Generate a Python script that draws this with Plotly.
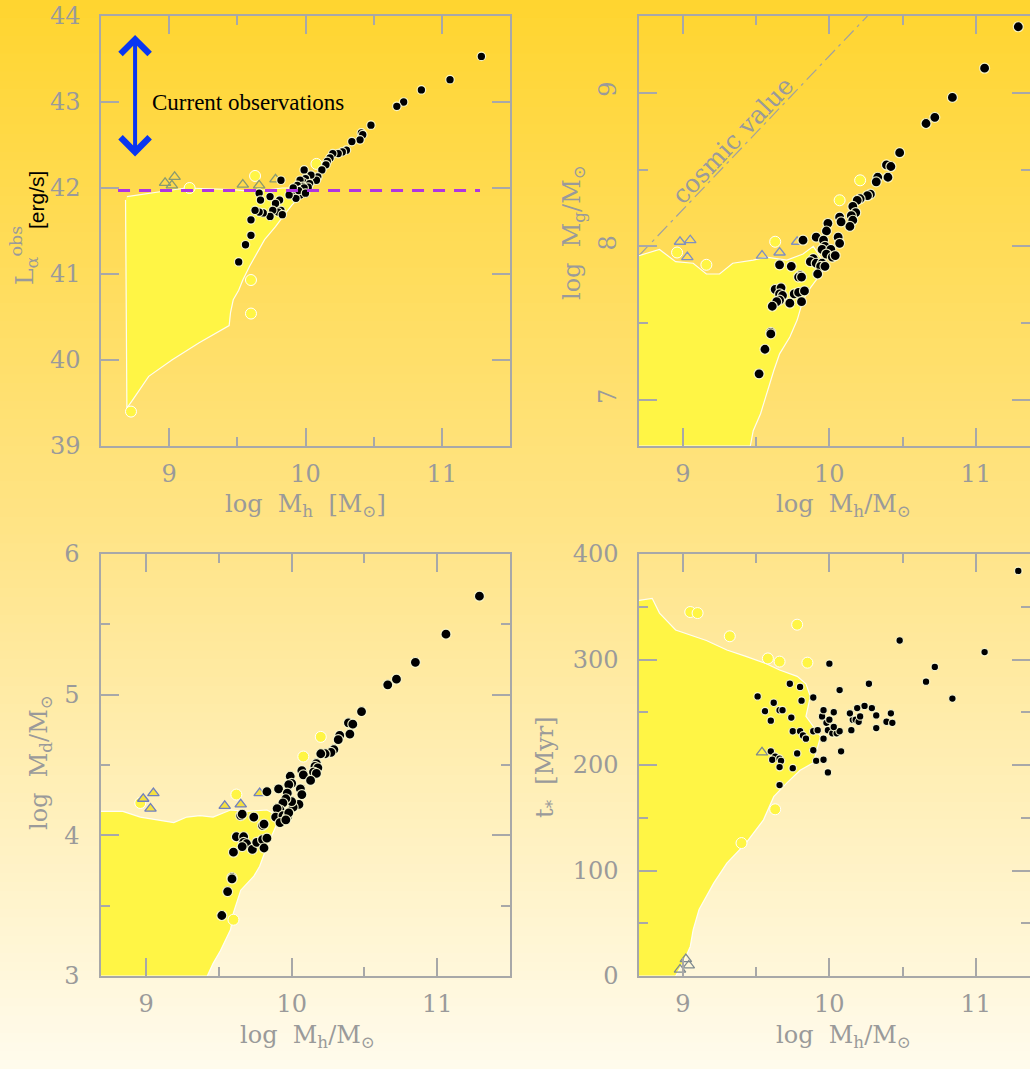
import plotly.graph_objects as go

W, H = 1030, 1069

# ---------------- data ----------------
# Panel 1: log L_alpha^obs vs log M_h
p1_x = [11.29, 11.06, 10.85, 10.72, 10.67, 10.48, 10.41, 10.42, 10.40, 10.34, 10.30, 10.27, 10.24, 10.20,
        10.18, 10.16, 10.15, 10.12, 10.09, 10.08, 10.04, 9.99, 10.00, 9.98, 9.96, 10.03, 9.98, 9.94, 9.97,
        9.92, 9.96, 9.93, 9.88, 9.82, 9.81, 9.78, 9.74, 9.66, 9.67, 9.82, 9.80, 9.76, 9.83, 9.74, 9.69,
        9.66, 9.63, 9.60, 9.60, 9.56, 9.51, 10.02, 9.99, 9.95, 9.91, 10.00]
p1_y = [43.53, 43.26, 43.14, 43.00, 42.95, 42.73, 42.64, 42.62, 42.56, 42.54, 42.44, 42.42, 42.40, 42.40,
        42.35, 42.31, 42.27, 42.21, 42.13, 42.09, 42.15, 42.21, 42.11, 42.07, 42.09, 42.05, 42.02, 42.03, 41.98,
        41.96, 41.92, 41.88, 41.92, 42.09, 41.86, 41.82, 41.90, 41.94, 41.86, 41.74, 41.72, 41.74, 41.69, 41.67, 41.71,
        41.72, 41.74, 41.63, 41.45, 41.34, 41.14, 42.01, 42.00, 41.97, 42.00, 41.94]
p1_tri_x = [8.97, 9.02, 9.04, 9.54, 9.66, 9.78]
p1_tri_y = [42.06, 42.03, 42.13, 42.04, 42.03, 42.10]
p1_poly_x = [8.69, 9.12, 9.47, 9.61, 9.83, 9.96, 9.96, 9.90, 9.85, 9.78, 9.70, 9.64, 9.59, 9.54, 9.51,
             9.47, 9.45, 9.44, 9.22, 9.02, 8.85, 8.73, 8.69, 8.68]
p1_poly_y = [41.90, 42.00, 41.98, 41.96, 42.00, 42.00, 41.90, 41.80, 41.70, 41.55, 41.40, 41.24, 41.09, 40.93, 40.81,
             40.70, 40.55, 40.40, 40.20, 40.00, 39.81, 39.53, 39.44, 41.86]
p1_yc_x = [9.15, 9.60, 9.60, 8.72, 9.63, 10.08]
p1_yc_y = [42.00, 40.93, 40.54, 39.40, 42.14, 42.28]
obs_limit_x = [8.625, 11.28]
obs_limit_y = [41.97, 41.97]
arrow_x = 8.75
arrow_y = [42.35, 43.78]

# Panel 2: log M_g vs log M_h
p2_x = [11.29, 11.06, 10.84, 10.72, 10.66, 10.48, 10.39, 10.42, 10.40, 10.33, 10.32, 10.28, 10.26, 10.21, 10.19,
        10.16, 10.18, 10.15, 10.16, 10.14, 10.07, 10.08, 9.99, 9.98, 10.06, 10.07, 9.91, 9.82, 9.96, 9.97, 9.95,
        10.01, 9.98, 10.02, 10.04, 9.89, 9.87, 9.91, 9.95, 9.94, 9.97, 9.92, 9.66, 9.74, 9.80, 9.79, 9.81,
        9.63, 9.67, 9.66, 9.68, 9.66, 9.64, 9.73, 9.76, 9.79, 9.83, 9.81, 9.61, 9.60, 9.60, 9.56, 9.52]
p2_y = [9.43, 9.16, 8.97, 8.84, 8.80, 8.61, 8.53, 8.52, 8.45, 8.45, 8.42, 8.34, 8.33, 8.31, 8.30,
        8.26, 8.22, 8.20, 8.17, 8.13, 8.19, 8.16, 8.15, 8.10, 8.06, 8.02, 8.06, 8.04, 8.04, 8.00, 7.98,
        7.98, 7.95, 7.93, 7.94, 7.92, 7.90, 7.89, 7.89, 7.87, 7.87, 7.82, 7.88, 7.87, 7.81, 7.80, 7.80,
        7.72, 7.73, 7.69, 7.68, 7.65, 7.64, 7.63, 7.69, 7.70, 7.71, 7.64, 7.61, 7.44, 7.43, 7.33, 7.17]
p2_tri_x = [8.98, 9.05, 9.03, 9.54, 9.66, 9.78]
p2_tri_y = [8.03, 8.04, 7.93, 7.94, 7.96, 8.03]
p2_poly_x = [8.70, 8.84, 8.95, 9.07, 9.16, 9.25, 9.34, 9.48, 9.57, 9.71, 9.82, 9.89, 9.98, 9.87, 9.82,
             9.78, 9.73, 9.66, 9.62, 9.57, 9.53, 9.48, 9.46, 8.70]
p2_poly_y = [7.94, 7.98, 7.90, 7.89, 7.82, 7.82, 7.89, 7.91, 7.93, 7.91, 7.95, 8.00, 7.87, 7.73, 7.65,
             7.52, 7.41, 7.30, 7.19, 7.04, 6.91, 6.80, 6.70, 6.70]
p2_yc_x = [8.96, 9.16, 9.63, 10.07, 10.21]
p2_yc_y = [7.96, 7.88, 8.03, 8.30, 8.43]
cosmic_x = [8.70, 10.26]
cosmic_y = [7.94, 9.50]

# Panel 3: log M_d vs log M_h
p3_x = [11.29, 11.06, 10.85, 10.72, 10.66, 10.48, 10.39, 10.42, 10.40, 10.33, 10.32, 10.29, 10.27, 10.23, 10.20,
        10.17, 10.16, 10.18, 10.15, 10.17, 10.07, 10.08, 10.13, 9.99, 10.00, 9.98, 9.91, 9.83,
        10.06, 10.07, 10.05, 10.01, 10.00, 9.97, 9.96, 9.94, 9.92, 9.90, 9.89, 9.94, 9.97, 9.98, 9.92, 9.96,
        9.65, 9.66, 9.74, 9.80, 9.81, 9.62, 9.67, 9.67, 9.69, 9.66, 9.73, 9.76, 9.80, 9.83, 9.81,
        9.60, 9.59, 9.59, 9.56, 9.52]
p3_y = [5.70, 5.43, 5.23, 5.11, 5.07, 4.88, 4.80, 4.79, 4.72, 4.71, 4.68, 4.61, 4.59, 4.58, 4.58,
        4.51, 4.49, 4.48, 4.45, 4.44, 4.46, 4.43, 4.39, 4.42, 4.37, 4.36, 4.33, 4.31,
        4.33, 4.29, 4.22, 4.20, 4.24, 4.30, 4.26, 4.23, 4.18, 4.19, 4.13, 4.14, 4.13, 4.16, 4.09, 4.11,
        4.14, 4.15, 4.13, 4.07, 4.08, 3.99, 3.99, 3.95, 3.94, 3.92, 3.90, 3.95, 3.97, 3.98, 3.91,
        3.88, 3.70, 3.69, 3.60, 3.43]
p3_tri_x = [8.98, 9.05, 9.03, 9.54, 9.65, 9.78]
p3_tri_y = [4.26, 4.30, 4.19, 4.21, 4.22, 4.30]
p3_poly_x = [8.69, 8.84, 8.96, 9.07, 9.19, 9.28, 9.37, 9.46, 9.58, 9.69, 9.83, 9.92, 9.88, 9.83, 9.78,
             9.74, 9.65, 9.60, 9.58, 9.51, 9.46, 9.42, 8.69]
p3_poly_y = [4.17, 4.17, 4.13, 4.11, 4.09, 4.13, 4.14, 4.13, 4.18, 4.17, 4.18, 4.13, 4.04, 3.92, 3.78,
             3.71, 3.61, 3.45, 3.33, 3.18, 3.09, 3.00, 3.00]
p3_yc_x = [8.96, 9.62, 10.08, 10.20, 9.60]
p3_yc_y = [4.23, 4.29, 4.56, 4.70, 3.40]

# Panel 4: t_* vs log M_h
p4_x = [11.29, 11.06, 10.84, 10.72, 10.66, 10.48, 10.27, 10.00, 10.07, 10.42, 10.39, 10.43, 10.32, 10.29, 10.24,
        10.32, 10.15, 10.16, 10.14, 10.19, 10.18, 10.20, 10.21, 9.51, 9.56, 9.60, 9.62, 9.66, 9.68, 9.73,
        9.80, 9.81, 9.74, 9.75, 9.80, 9.82, 9.84, 9.89, 9.92, 9.95, 9.96, 9.98, 9.99, 10.02, 10.05, 10.07,
        10.03, 10.00, 9.96, 9.89, 10.03, 9.89, 9.91, 9.96, 10.08, 9.78, 9.60, 9.63, 9.61, 9.66, 9.67, 9.66,
        9.75, 9.99, 9.66]
p4_y = [384, 307, 263, 293, 279, 318, 277, 296, 271, 249, 241, 240, 235, 254, 256,
        247, 233, 243, 249, 254, 243, 241, 246, 265, 251, 242, 259, 252, 252, 277,
        274, 261, 245, 232, 232, 228, 225, 232, 233, 246, 252, 240, 233, 230, 230, 232,
        236, 243, 225, 264, 250, 214, 204, 205, 213, 211, 213, 208, 205, 206, 204, 198,
        197, 193, 181]
p4_tri_x = [9.54, 8.98, 9.02, 9.04]
p4_tri_y = [212, 6, 16, 10]
p4_poly_x = [8.70, 8.79, 8.84, 8.95, 9.16, 9.30, 9.43, 9.57, 9.66, 9.78, 9.84, 9.87, 9.84, 9.94, 9.89,
             9.80, 9.71, 9.62, 9.55, 9.43, 9.30, 9.21, 9.11, 9.07, 9.05, 9.00, 8.95, 8.70]
p4_poly_y = [356, 358, 344, 328, 318, 309, 303, 296, 290, 284, 277, 265, 246, 227, 202,
             195, 183, 170, 148, 126, 107, 88, 63, 44, 28, 12, 0, 0]
p4_yc_x = [9.05, 9.10, 9.32, 9.78, 9.40, 9.58, 9.66, 9.85, 9.63]
p4_yc_y = [345, 344, 322, 333, 126, 301, 298, 297, 158]

# ---------------- layout geometry ----------------
def px_x(p):
    return p / W

def px_y(p):
    return 1 - p / H

GREY = "#9a9a9a"
AXC = "#a8a8a8"
SERIF = "DejaVu Serif"
YEL = "#FFF545"

fig = go.Figure()

panels = [
    ("x", "y", [8.5, 11.5], [39, 44], (101, 510), (16, 446)),
    ("x2", "y2", [8.70, 11.37], [6.70, 9.5], (639, 1030), (16, 446)),
    ("x3", "y3", [8.69, 11.5], [3, 6], (101, 510), (554, 976)),
    ("x4", "y4", [8.70, 11.37], [0, 400], (639, 1030), (554, 976)),
]

def add_panel(k, poly_x, poly_y, yc_x, yc_y, tri_x, tri_y, tri_fill, tri_line, dot_x, dot_y, dot_size):
    xa, ya = panels[k][0], panels[k][1]
    fig.add_trace(go.Scatter(x=poly_x, y=poly_y, mode="lines", fill="toself", fillcolor=YEL,
                             line=dict(color="rgba(255,255,255,0.9)", width=1.2), xaxis=xa, yaxis=ya,
                             hoverinfo="skip", showlegend=False))
    fig.add_trace(go.Scatter(x=yc_x, y=yc_y, mode="markers",
                             marker=dict(size=11, color=YEL, line=dict(color="white", width=1)),
                             xaxis=xa, yaxis=ya, showlegend=False))
    fig.add_trace(go.Scatter(x=tri_x, y=tri_y, mode="markers",
                             marker=dict(symbol="triangle-up", size=10, color=tri_fill,
                                         line=dict(color=tri_line, width=1.3)),
                             xaxis=xa, yaxis=ya, showlegend=False))
    fig.add_trace(go.Scatter(x=dot_x, y=dot_y, mode="markers",
                             marker=dict(size=dot_size, color="black",
                                         line=dict(color="rgba(255,255,215,0.9)", width=1.2)),
                             xaxis=xa, yaxis=ya, showlegend=False))

add_panel(0, p1_poly_x, p1_poly_y, p1_yc_x, p1_yc_y, p1_tri_x, p1_tri_y,
          "rgba(0,0,0,0)", "#8a9a70", p1_x, p1_y, 8.5)
fig.add_trace(go.Scatter(x=obs_limit_x, y=obs_limit_y, mode="lines",
                         line=dict(color="#B035E0", width=3, dash="12px,9px"),
                         xaxis="x", yaxis="y", showlegend=False))

fig.add_trace(go.Scatter(x=cosmic_x, y=cosmic_y, mode="lines",
                         line=dict(color="#a0a0a0", width=1.2, dash="14px,5px,3px,5px"),
                         xaxis="x2", yaxis="y2", showlegend=False))
add_panel(1, p2_poly_x, p2_poly_y, p2_yc_x, p2_yc_y, p2_tri_x, p2_tri_y,
          "rgba(0,0,0,0)", "#7f8fc0", p2_x, p2_y, 10)
add_panel(2, p3_poly_x, p3_poly_y, p3_yc_x, p3_yc_y, p3_tri_x, p3_tri_y,
          "#F5E040", "#6f7fc0", p3_x, p3_y, 10)
add_panel(3, p4_poly_x, p4_poly_y, p4_yc_x, p4_yc_y, p4_tri_x, p4_tri_y,
          "rgba(0,0,0,0)", "#7f8a90", p4_x, p4_y, 7.5)

axis_common = dict(showgrid=False, zeroline=False, showline=True, linecolor=AXC, linewidth=1.5,
                   mirror="ticks", ticks="inside", ticklen=18, tickwidth=1.5, tickcolor=AXC,
                   automargin=False,
                   tickfont=dict(family=SERIF, size=24, color=GREY))

layout = dict(width=W, height=H, margin=dict(l=0, r=0, t=0, b=0, pad=0, autoexpand=False),
              paper_bgcolor="#FFF8E6", plot_bgcolor="rgba(0,0,0,0)", showlegend=False)

def minor(d):
    return dict(dtick=d, ticklen=9, tickwidth=1.5, tickcolor=AXC, ticks="inside")

for i, (xa, ya, xr, yr, xd, yd) in enumerate(panels):
    xn = "xaxis" if i == 0 else f"xaxis{i+1}"
    yn = "yaxis" if i == 0 else f"yaxis{i+1}"
    xax = dict(axis_common, range=xr, domain=[px_x(xd[0]), px_x(xd[1])], anchor=ya,
               tickvals=[9, 10, 11], minor=minor(0.5), ticklabelstandoff=5)
    yax = dict(axis_common, range=yr, domain=[px_y(yd[1]), px_y(yd[0])], anchor=xa)
    if i == 0:
        yax.update(tickvals=[39, 40, 41, 42, 43, 44], ticklabelstandoff=14)
    elif i == 1:
        yax.update(tickvals=[7, 8, 9], tickangle=-90, ticklabelstandoff=12, minor=minor(0.5))
    elif i == 2:
        yax.update(tickvals=[3, 4, 5, 6], ticklabelstandoff=15, minor=minor(0.5))
    else:
        yax.update(tickvals=[0, 100, 200, 300, 400], ticklabelstandoff=14, minor=minor(50))
    layout[xn] = xax
    layout[yn] = yax

# background gradient strips
top = (255, 213, 48)
mid = (255, 228, 135)
bot = (255, 251, 236)
shapes = []
n = 120
for k in range(n):
    f = k / (n - 1)
    if f < 0.5:
        g = f / 0.5
        c = [round(top[j] + (mid[j] - top[j]) * g) for j in range(3)]
    else:
        g = (f - 0.5) / 0.5
        c = [round(mid[j] + (bot[j] - mid[j]) * g) for j in range(3)]
    y1 = 1 - k / n
    y0 = 1 - (k + 1) / n
    shapes.append(dict(type="rect", xref="paper", yref="paper", x0=0, x1=1, y0=y0 - 0.001, y1=y1,
                       fillcolor=f"rgb({c[0]},{c[1]},{c[2]})", line=dict(width=0), layer="below"))
layout["shapes"] = shapes

tfont = dict(family=SERIF, size=24, color=GREY)
C = dict(xref="paper", yref="paper", showarrow=False, xanchor="center", yanchor="middle")
ann = []
ann.append(dict(C, text="log  M<sub>h</sub>  [M<sub>⊙</sub>]", x=px_x(305), y=px_y(505), font=tfont))
ann.append(dict(C, text="log  M<sub>h</sub>/M<sub>⊙</sub>", x=px_x(843), y=px_y(505), font=tfont))
ann.append(dict(C, text="log  M<sub>h</sub>/M<sub>⊙</sub>", x=px_x(307), y=px_y(1036), font=tfont))
ann.append(dict(C, text="log  M<sub>h</sub>/M<sub>⊙</sub>", x=px_x(843), y=px_y(1036), font=tfont))
ann.append(dict(C, text="L<sub>α</sub><sup>obs</sup>", x=px_x(24), y=px_y(256), textangle=-90,
                font=dict(family=SERIF, size=25, color=GREY)))
ann.append(dict(C, text="[erg/s]", x=px_x(36), y=px_y(200), textangle=-90,
                font=dict(family="Liberation Sans", size=21, color="black")))
ann.append(dict(C, text="log  M<sub>g</sub>/M<sub>⊙</sub>", x=px_x(573), y=px_y(233), textangle=-90, font=tfont))
ann.append(dict(C, text="log  M<sub>d</sub>/M<sub>⊙</sub>", x=px_x(40), y=px_y(763), textangle=-90, font=tfont))
ann.append(dict(C, text="t<sub>*</sub>  [Myr]", x=px_x(546), y=px_y(767), textangle=-90, font=tfont))
ann.append(dict(text="Current observations", x=8.86, y=43.0, xref="x", yref="y", xanchor="left",
                yanchor="middle", showarrow=False,
                font=dict(family="Liberation Serif", size=23, color="black")))
ann.append(dict(x=arrow_x, y=arrow_y[1], ax=arrow_x, ay=arrow_y[0], xref="x", yref="y", axref="x", ayref="y",
                text="", showarrow=True, arrowhead=4, startarrowhead=4, arrowside="end+start",
                arrowsize=1.4, startarrowsize=1.4, arrowwidth=4, arrowcolor="#0a36f0"))
ann.append(dict(text="cosmic value", x=9.34, y=8.69, xref="x2", yref="y2", showarrow=False,
                xanchor="center", yanchor="middle",
                textangle=-46.5, font=dict(family=SERIF, size=25, color=GREY)))
layout["annotations"] = ann

fig.update_layout(**layout)
fig.write_html("out.html")
